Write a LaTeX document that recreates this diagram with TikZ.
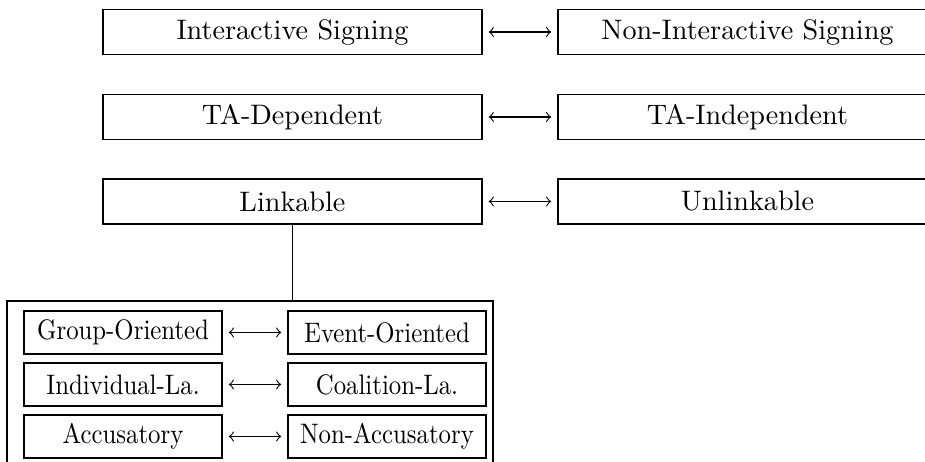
\documentclass[tikz,border=0pt]{standalone}
\usepackage{amsmath,amssymb}
\usepackage{graphicx}
\usepackage{tikz}
\usetikzlibrary{arrows}

\newcommand{\squeezed}[1]{\scalebox{0.88}[1]{#1}}

\tikzset{
  catbox/.style={draw, inner sep=0pt, minimum width=4.726cm, minimum height=0.561cm},
  subbox/.style={draw, inner sep=0pt, minimum width=2.469cm, minimum height=0.536cm},
  pairarrow/.style={<->, >=to, shorten <=2.2pt, shorten >=2.2pt}
}

\begin{document}
\begin{tikzpicture}
    \useasboundingbox (0,0) rectangle (11.535,-5.761);
    % top three pairs
    \node[catbox] (is) at (3.647,-0.399) {Interactive Signing};
    \node[catbox] (nis) at (9.321,-0.399) {Non-Interactive Signing};
    \node[catbox] (tad) at (3.647,-1.459) {TA-Dependent};
    \node[catbox] (tai) at (9.321,-1.459) {TA-Independent};
    \node[catbox] (lk) at (3.647,-2.513) {Linkable};
    \node[catbox] (ulk) at (9.321,-2.513) {Unlinkable};
    \draw[pairarrow] (is.east) -- (nis.west);
    \draw[pairarrow] (tad.east) -- (tai.west);
    \draw[pairarrow] (lk.east) -- (ulk.west);
    % linkable sub-categories
    \node[draw, inner sep=0pt, minimum width=6.060cm, minimum height=2.082cm] (sub) at (3.118,-4.795) {};
    \node[subbox] (go) at (1.534,-4.146) {\squeezed{Group-Oriented}};
    \node[subbox] (eo) at (4.826,-4.146) {\squeezed{Event-Oriented}};
    \node[subbox] (il) at (1.534,-4.795) {\squeezed{Individual-La.}};
    \node[subbox] (cl) at (4.826,-4.795) {\squeezed{Coalition-La.}};
    \node[subbox] (acc) at (1.534,-5.443) {\squeezed{Accusatory}};
    \node[subbox] (nacc) at (4.826,-5.443) {\squeezed{Non-Accusatory}};
    \draw[pairarrow] (go.east) -- (eo.west);
    \draw[pairarrow] (il.east) -- (cl.west);
    \draw[pairarrow] (acc.east) -- (nacc.west);
    \draw (lk.south) -- (lk.south |- sub.north);
\end{tikzpicture}
\end{document}
